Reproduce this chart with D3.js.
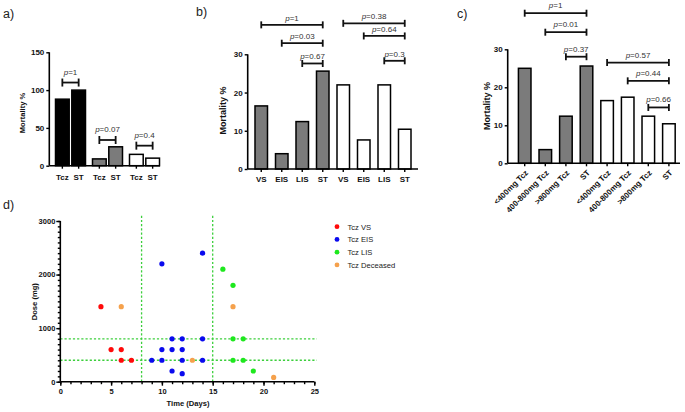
<!DOCTYPE html>
<html><head><meta charset="utf-8">
<script src="https://cdn.jsdelivr.net/npm/d3@7"></script>
<style>
body{margin:0;background:#fff}
text{font-family:"Liberation Sans",Arial,sans-serif}
</style>
</head><body>
<svg id="chart" width="685" height="412"></svg>
<script>
// ---------- DATA ----------
// panel a
const aGroups = ["black", "grey", "white"];
const aLabels = ["Tcz", "ST"];
const aValues = [[88, 100], [9, 25], [15, 10]];
const aPvals = ["1", "0.07", "0.4"];
const aPlevel = [110, 34, 26.5];
const aTicks = [0, 50, 100, 150];

// panel b
const bLabels = ["VS", "EIS", "LIS", "ST", "VS", "EIS", "LIS", "ST"];
const bValues = [16.5, 4, 12.4, 25.6, 22, 7.6, 22, 10.4];
const bGroup = ["grey", "grey", "grey", "grey", "white", "white", "white", "white"];
const bBrFrom = [0, 1, 2, 4, 5, 6];
const bBrTo = [3, 3, 3, 7, 7, 7];
const bPvals = ["1", "0.03", "0.67", "0.38", "0.64", "0.3"];
const bPlevel = [37.7, 32.9, 27.6, 38.1, 34.8, 28.3];
const bTicks = [0, 10, 20, 30];

// panel c
const cLabels = ["<400mg Tcz", "400-800mg Tcz", ">800mg Tcz", "ST", "<400mg Tcz", "400-800mg Tcz", ">800mg Tcz", "ST"];
const cValues = [25, 3.6, 12.4, 25.6, 16.5, 17.4, 12.4, 10.4];
const cGroup = ["grey", "grey", "grey", "grey", "white", "white", "white", "white"];
const cBrFrom = [0, 1, 2, 4, 5, 6];
const cBrTo = [3, 3, 3, 7, 7, 7];
const cPvals = ["1", "0.01", "0.37", "0.57", "0.44", "0.66"];
const cPlevel = [39.5, 34.5, 28.05, 26.5, 21.7, 14.7];
const cTicks = [0, 10, 20, 30];

// panel d
const dSeries = ["Tcz VS", "Tcz EIS", "Tcz LIS", "Tcz Deceased"];
const dVS = [[4, 1400], [5, 600], [6, 600], [6, 400], [7, 400]];
const dEIS = [[10, 2200], [14, 2400], [11, 800], [12, 800], [14, 800], [10, 600], [11, 600], [12, 600], [9, 400], [10, 400], [12, 400], [14, 400], [11, 200], [12, 150]];
const dLIS = [[16, 2100], [17, 1800], [17, 800], [18, 800], [17, 400], [18, 400], [19, 200]];
const dDeceased = [[6, 1400], [13, 400], [17, 1400], [21, 80]];
const dDoseCuts = [400, 800];
const dTimeCuts = [8, 15];
const dXTicks = [0, 5, 10, 15, 20, 25];
const dYTicks = [0, 1000, 2000, 3000];

// ---------- STYLE ----------
const FILL = {black: "#000", grey: "#7b7b7b", white: "#fff"};
const DCOL = ["#ff0a0a", "#0a0aee", "#1ee81e", "#f5a14c"];
const svg = d3.select("#chart");

function styleAxis(g, fs) {
  g.selectAll("path.domain").remove();
  g.selectAll("line").attr("stroke", "#000").attr("stroke-width", 1.4);
  g.selectAll("text").attr("font-size", fs).attr("font-weight", "bold").attr("fill", "#111")
    .style("font-family", '"Liberation Sans",Arial,sans-serif');
}
function pText(g, x, y, val) {
  const t = g.append("text").attr("x", x).attr("y", y).attr("text-anchor", "middle")
    .attr("font-size", 8).attr("fill", "#333");
  t.append("tspan").attr("font-style", "italic").text("p");
  t.append("tspan").text("=" + val);
}
function bracket(g, x1, x2, y, cap, val, off) {
  g.append("line").attr("x1", x1).attr("x2", x2).attr("y1", y).attr("y2", y)
    .attr("stroke", "#111").attr("stroke-width", 1.8);
  [x1, x2].forEach(x => g.append("line").attr("x1", x).attr("x2", x).attr("y1", y - cap).attr("y2", y + cap)
    .attr("stroke", "#111").attr("stroke-width", 1.8));
  pText(g, (x1 + x2) / 2, y - off, val);
}
function label(txt, x, y) {
  svg.append("text").attr("x", x).attr("y", y).attr("font-size", 12.5).attr("fill", "#222").text(txt);
}
function yLabel(txt, x, y, fs) {
  svg.append("text").attr("transform", `translate(${x},${y}) rotate(-90)`).attr("text-anchor", "middle")
    .attr("font-size", fs).attr("font-weight", "bold").attr("fill", "#111").text(txt);
}
function axisLines(g, xL, xR, yB, yT) {
  g.append("line").attr("x1", xL).attr("x2", xL).attr("y1", yB).attr("y2", yT).attr("stroke", "#000").attr("stroke-width", 1.6);
  g.append("line").attr("x1", xL).attr("x2", xR).attr("y1", yB).attr("y2", yB).attr("stroke", "#000").attr("stroke-width", 1.6);
}

// ---------- PANEL A ----------
{
  const g = svg.append("g");
  const y = d3.scaleLinear().domain([0, 150]).range([165.7, 52.3]);
  const xg = d3.scaleBand().domain(aGroups).range([52, 163]);
  const xs = d3.scaleBand().domain(aLabels).range([3.5, xg.bandwidth() - 3.5]).paddingInner(0.16);
  const cx = (gi, si) => xg(aGroups[gi]) + xs(aLabels[si]) + xs.bandwidth() / 2;
  aValues.forEach((pair, gi) => pair.forEach((v, si) => {
    g.append("rect").attr("x", xg(aGroups[gi]) + xs(aLabels[si])).attr("width", xs.bandwidth())
      .attr("y", y(v)).attr("height", y(0) - y(v))
      .attr("fill", FILL[aGroups[gi]]).attr("stroke", "#000").attr("stroke-width", 1.5);
  }));
  const ya = g.append("g").attr("transform", "translate(49.3,0)")
    .call(d3.axisLeft(y).tickValues(aTicks).tickSize(3).tickPadding(2).tickSizeOuter(0));
  styleAxis(ya, 8);
  const xt = [];
  aGroups.forEach((gr, gi) => aLabels.forEach((l, si) => xt.push({x: cx(gi, si), l})));
  const xa = g.append("g");
  xt.forEach(d => {
    xa.append("line").attr("x1", d.x).attr("x2", d.x).attr("y1", y(0)).attr("y2", y(0) + 3).attr("stroke", "#000").attr("stroke-width", 1.4);
    xa.append("text").attr("x", d.x).attr("y", y(0) + 14).attr("text-anchor", "middle")
      .attr("font-size", 8).attr("font-weight", "bold").attr("fill", "#111").text(d.l);
  });
  axisLines(g, 49.3, 160, y(0), y(150));
  aPvals.forEach((p, gi) => bracket(g, cx(gi, 0), cx(gi, 1), y(aPlevel[gi]), 4, p, 8));
  yLabel("Mortality %", 24.5, 113, 7.6);
  label("a)", 3, 18);
}

// ---------- PANEL B ----------
{
  const g = svg.append("g");
  const y = d3.scaleLinear().domain([0, 30]).range([169, 54.3]);
  const keys = bLabels.map((l, i) => i);
  const x = d3.scaleBand().domain(keys).range([251, 415]).paddingInner(0.39).paddingOuter(0.195);
  const cx = i => x(i) + x.bandwidth() / 2;
  bValues.forEach((v, i) => {
    g.append("rect").attr("x", x(i)).attr("width", x.bandwidth()).attr("y", y(v)).attr("height", y(0) - y(v))
      .attr("fill", FILL[bGroup[i]]).attr("stroke", "#000").attr("stroke-width", 1.5);
  });
  const ya = g.append("g").attr("transform", "translate(247.7,0)")
    .call(d3.axisLeft(y).tickValues(bTicks).tickSize(3).tickPadding(2).tickSizeOuter(0));
  styleAxis(ya, 8);
  const xa = g.append("g").attr("transform", `translate(0,${y(0)})`)
    .call(d3.axisBottom(x).tickSize(3).tickPadding(4).tickSizeOuter(0).tickFormat(i => bLabels[i]));
  styleAxis(xa, 8);
  axisLines(g, 247.7, 418, y(0), y(30));
  bPvals.forEach((p, k) => bracket(g, cx(bBrFrom[k]), cx(bBrTo[k]), y(bPlevel[k]), 3.5, p, 4));
  yLabel("Mortality %", 226, 110.5, 9);
  label("b)", 196, 16);
}

// ---------- PANEL C ----------
{
  const g = svg.append("g");
  const y = d3.scaleLinear().domain([0, 30]).range([163.3, 49.3]);
  const keys = cLabels.map((l, i) => i);
  const x = d3.scaleBand().domain(keys).range([514.4, 679.2]).paddingInner(0.39).paddingOuter(0.195);
  const cx = i => x(i) + x.bandwidth() / 2;
  cValues.forEach((v, i) => {
    g.append("rect").attr("x", x(i)).attr("width", x.bandwidth()).attr("y", y(v)).attr("height", y(0) - y(v))
      .attr("fill", FILL[cGroup[i]]).attr("stroke", "#000").attr("stroke-width", 1.5);
  });
  const ya = g.append("g").attr("transform", "translate(507.7,0)")
    .call(d3.axisLeft(y).tickValues(cTicks).tickSize(3).tickPadding(2).tickSizeOuter(0));
  styleAxis(ya, 8);
  const xa = g.append("g").attr("transform", `translate(0,${y(0)})`)
    .call(d3.axisBottom(x).tickSize(3).tickPadding(4).tickSizeOuter(0).tickFormat(i => cLabels[i]));
  styleAxis(xa, 8);
  xa.selectAll("text").attr("text-anchor", "end").attr("y", 0).attr("dy", 0)
    .attr("transform", "translate(4,10) rotate(-45)");
  axisLines(g, 507.7, 680, y(0), y(30));
  cPvals.forEach((p, k) => bracket(g, cx(cBrFrom[k]), cx(cBrTo[k]), y(cPlevel[k]), 3.5, p, 5));
  yLabel("Mortality %", 490, 106, 9);
  label("c)", 457, 18);
}

// ---------- PANEL D ----------
{
  const g = svg.append("g");
  const x = d3.scaleLinear().domain([0, 25]).range([60.3, 314.3]);
  const y = d3.scaleLinear().domain([0, 3000]).range([381.7, 221]);
  dDoseCuts.forEach(v => g.append("line").attr("x1", x(0)).attr("x2", x(25) + 2.5).attr("y1", y(v)).attr("y2", y(v))
    .attr("stroke", "#3ccf3c").attr("stroke-width", 1.3).attr("stroke-dasharray", "2.2,2"));
  dTimeCuts.forEach(v => g.append("line").attr("x1", x(v)).attr("x2", x(v)).attr("y1", y(0)).attr("y2", 214)
    .attr("stroke", "#3ccf3c").attr("stroke-width", 1.3).attr("stroke-dasharray", "2.2,2"));
  const xm = g.append("g").attr("transform", `translate(0,${y(0)})`)
    .call(d3.axisBottom(x).tickValues(d3.range(0, 26, 1)).tickSize(2.5).tickFormat(""));
  styleAxis(xm, 7.5);
  const xa = g.append("g").attr("transform", `translate(0,${y(0)})`)
    .call(d3.axisBottom(x).tickValues(dXTicks).tickSize(4).tickPadding(3).tickSizeOuter(0).tickFormat(d3.format("d")));
  styleAxis(xa, 7.5);
  const ymn = g.append("g").attr("transform", `translate(${x(0)},0)`)
    .call(d3.axisLeft(y).tickValues(d3.range(0, 3001, 100)).tickSize(2.5).tickFormat(""));
  styleAxis(ymn, 7.5);
  const ya = g.append("g").attr("transform", `translate(${x(0)},0)`)
    .call(d3.axisLeft(y).tickValues(dYTicks).tickSize(4).tickPadding(1).tickSizeOuter(0).tickFormat(d3.format("d")));
  styleAxis(ya, 7.5);
  axisLines(g, x(0), x(25), y(0), y(3000));
  [dVS, dEIS, dLIS, dDeceased].forEach((pts, si) => {
    g.selectAll(null).data(pts).enter().append("circle")
      .attr("cx", d => x(d[0])).attr("cy", d => y(d[1])).attr("r", 2.6).attr("fill", DCOL[si]);
  });
  svg.append("text").attr("x", 188).attr("y", 406).attr("text-anchor", "middle")
    .attr("font-size", 7.6).attr("font-weight", "bold").attr("fill", "#111").text("Time (Days)");
  yLabel("Dose (mg)", 36.5, 301.7, 7.6);
  dSeries.forEach((s, i) => {
    const ly = 226.7 + i * 12.75;
    svg.append("circle").attr("cx", 337).attr("cy", ly).attr("r", 2.4).attr("fill", DCOL[i]);
    svg.append("text").attr("x", 347.5).attr("y", ly + 2.8).attr("font-size", 7.6).attr("fill", "#222").text(s);
  });
  label("d)", 3, 209);
}
</script>
</body></html>
